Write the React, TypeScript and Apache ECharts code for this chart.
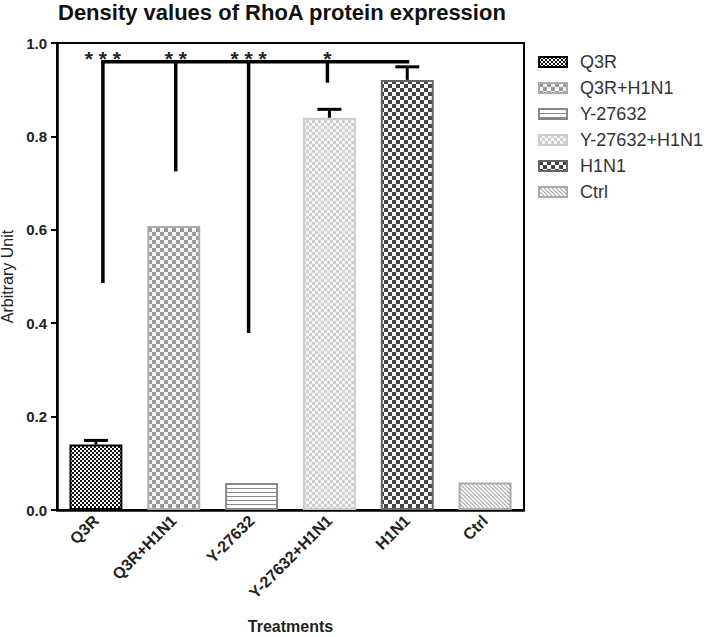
import React, { useEffect, useRef } from 'react';
import * as echarts from 'echarts';

// ---------- data ----------
const categories = ['Q3R', 'Q3R+H1N1', 'Y-27632', 'Y-27632+H1N1', 'H1N1', 'Ctrl'];
const meanValues = [0.14, 0.608, 0.058, 0.84, 0.921, 0.059];
const errorTops = [0.149, null, null, 0.858, 0.949, null];
const yTickValues = [0, 0.2, 0.4, 0.6, 0.8, 1.0];
const sigLineValue = 0.96;
const sigTargetIndex = 4;
const sigIndices = [0, 1, 2, 3];
const sigBottoms = [0.486, 0.725, 0.379, 0.915];
const sigStars = ['* * *', '* *', '* * *', '*'];

// ---------- styles ----------
const FONT = 'Liberation Sans, Arial, sans-serif';
const dropNudgePx = [7, 2, -3, -2];

function makePattern(kind: string, fg: string, bg: string, cell: number) {
  const c = document.createElement('canvas');
  const size = kind === 'checker' ? cell * 2 : cell;
  c.width = size;
  c.height = size;
  const ctx = c.getContext('2d')!;
  ctx.fillStyle = bg;
  ctx.fillRect(0, 0, size, size);
  ctx.fillStyle = fg;
  ctx.strokeStyle = fg;
  if (kind === 'checker') {
    ctx.fillRect(0, 0, cell, cell);
    ctx.fillRect(cell, cell, cell, cell);
  } else if (kind === 'hline') {
    ctx.fillRect(0, 0, size, 1);
  } else if (kind === 'diag') {
    ctx.lineWidth = 1.2;
    ctx.beginPath();
    ctx.moveTo(-1, -1);
    ctx.lineTo(size + 1, size + 1);
    ctx.moveTo(-1, size - 1);
    ctx.lineTo(1, size + 1);
    ctx.moveTo(size - 1, -1);
    ctx.lineTo(size + 1, 1);
    ctx.stroke();
  }
  return { image: c, repeat: 'repeat', imageWidth: size, imageHeight: size } as any;
}

export default function App() {
  const ref = useRef<HTMLDivElement>(null);
  useEffect(() => {
    if (!ref.current) return;
    const chart = echarts.init(ref.current, null, { renderer: 'svg' });

    const fills = [
      makePattern('checker', '#111111', '#ffffff', 2),
      makePattern('checker', '#9a9a9a', '#f6f6f6', 4),
      makePattern('hline', '#8a8a8a', '#ffffff', 4),
      makePattern('checker', '#cfcfcf', '#f3f3f3', 3),
      makePattern('checker', '#444444', '#ffffff', 4),
      makePattern('diag', '#aaaaaa', '#ffffff', 4),
    ];
    const borders = ['#000000', '#aaaaaa', '#888888', '#cccccc', '#666666', '#aaaaaa'];

    const barSeries = categories.map((name, i) => ({
      name,
      type: 'bar',
      barWidth: '68%',
      barGap: '-100%',
      data: categories.map((_, j) => (j === i ? meanValues[i] : '-')),
      itemStyle: { color: fills[i], borderColor: borders[i], borderWidth: 2 },
      emphasis: { disabled: true },
      z: 2,
    }));

    const errData = errorTops
      .map((t, i) => (t == null ? null : [i, meanValues[i], t]))
      .filter((d) => d !== null);

    const sigData = sigIndices.map((c, k) => [c, sigBottoms[k], sigLineValue, k]);

    const option: any = {
      animation: false,
      title: {
        text: 'Density values of RhoA protein expression',
        left: 58,
        top: 1,
        padding: 0,
        textStyle: { fontFamily: FONT, fontSize: 22, fontWeight: 'bold', color: '#111' },
      },
      legend: {
        orient: 'vertical',
        left: 533,
        top: 48,
        icon: 'rect',
        itemWidth: 28,
        itemHeight: 10,
        itemGap: 8,
        data: categories,
        textStyle: {
          fontFamily: FONT,
          fontSize: 18,
          color: '#333',
          lineHeight: 18,
          padding: [0, 0, 0, 8],
        },
        selectedMode: false,
      },
      grid: {
        left: 57,
        right: 185,
        top: 43,
        bottom: 127,
        outerBoundsMode: 'none',
        containLabel: false,
        show: true,
        borderColor: '#000',
        borderWidth: 2,
        backgroundColor: 'transparent',
      },
      xAxis: {
        type: 'category',
        data: categories,
        name: 'Treatments',
        nameLocation: 'middle',
        nameGap: 108,
        nameTextStyle: { fontFamily: FONT, fontSize: 16, fontWeight: 'bold', color: '#222' },
        axisLine: { lineStyle: { color: '#000', width: 2.5 } },
        axisTick: { alignWithLabel: true, length: 6, lineStyle: { color: '#000', width: 2 } },
        axisLabel: {
          rotate: 45,
          interval: 0,
          margin: 8,
          fontFamily: FONT,
          fontSize: 16,
          fontWeight: 'bold',
          color: '#222',
        },
      },
      yAxis: {
        type: 'value',
        min: yTickValues[0],
        max: yTickValues[yTickValues.length - 1],
        interval: yTickValues[1] - yTickValues[0],
        name: 'Arbitrary Unit',
        nameLocation: 'middle',
        nameGap: 37,
        nameTextStyle: { fontFamily: FONT, fontSize: 16, color: '#222' },
        axisLine: { show: true, lineStyle: { color: '#000', width: 2.5 } },
        axisTick: { show: true, length: 6, lineStyle: { color: '#000', width: 2 } },
        splitLine: { show: false },
        axisLabel: {
          margin: 10,
          fontFamily: FONT,
          fontSize: 15,
          fontWeight: 'bold',
          color: '#222',
          formatter: (v: number) => v.toFixed(1),
        },
      },
      series: [
        ...barSeries,
        {
          type: 'custom',
          name: 'errorbars',
          data: errData,
          encode: { x: 0, y: [1, 2] },
          z: 5,
          renderItem: (_p: any, api: any) => {
            const x = api.value(0);
            const p0 = api.coord([x, api.value(1)]);
            const p1 = api.coord([x, api.value(2)]);
            const half = 12;
            const st = { stroke: '#000', lineWidth: 3 };
            return {
              type: 'group',
              children: [
                { type: 'line', shape: { x1: p0[0], y1: p0[1], x2: p1[0], y2: p1[1] }, style: st },
                { type: 'line', shape: { x1: p1[0] - half, y1: p1[1], x2: p1[0] + half, y2: p1[1] }, style: st },
              ],
            };
          },
        },
        {
          type: 'custom',
          name: 'significance',
          data: sigData,
          encode: { x: 0, y: [1, 2] },
          z: 6,
          renderItem: (_p: any, api: any) => {
            const c = api.value(0);
            const k = api.value(3);
            const nudge = dropNudgePx[k] || 0;
            const pb = api.coord([c, api.value(1)]);
            const pt = api.coord([c, api.value(2)]);
            const x = pb[0] + nudge;
            const st = { stroke: '#000', lineWidth: 3.5 };
            const children: any[] = [
              { type: 'line', shape: { x1: x, y1: pb[1], x2: x, y2: pt[1] - 1.5 }, style: st },
              {
                type: 'text',
                x: x,
                y: pt[1] - 3,
                style: {
                  text: sigStars[k],
                  fontFamily: FONT,
                  fontSize: 21,
                  fontWeight: 'bold',
                  fill: '#222',
                  align: 'center',
                  verticalAlign: 'middle',
                },
              },
            ];
            if (k === 0) {
              const pe = api.coord([sigTargetIndex, api.value(2)]);
              children.push({
                type: 'line',
                shape: { x1: x - 1.5, y1: pt[1], x2: pe[0] + 2, y2: pt[1] },
                style: st,
              });
            }
            return { type: 'group', children };
          },
        },
      ],
    };
    chart.setOption(option);
    return () => chart.dispose();
  }, []);
  return (
    <div
      ref={ref}
      style={{ position: 'absolute', left: 0, top: 0, width: 709, height: 637, background: '#fff' }}
    />
  );
}
